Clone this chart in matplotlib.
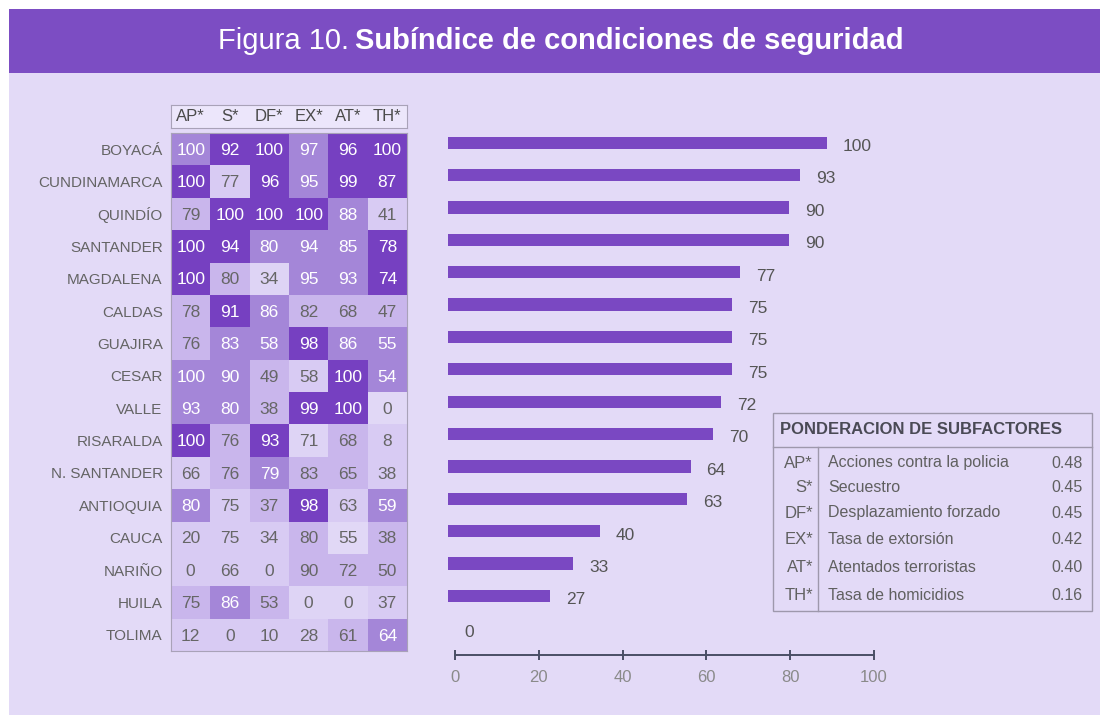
import matplotlib
matplotlib.use("Agg")
import matplotlib.pyplot as plt
from matplotlib.colors import LinearSegmentedColormap
from matplotlib.patches import Rectangle
from matplotlib.lines import Line2D
import numpy as np

plt.rcParams['font.family'] = ['Liberation Sans', 'DejaVu Sans']

# ---------------- data ----------------
departamentos = ["BOYACÁ", "CUNDINAMARCA", "QUINDÍO", "SANTANDER", "MAGDALENA",
                 "CALDAS", "GUAJIRA", "CESAR", "VALLE", "RISARALDA",
                 "N. SANTANDER", "ANTIOQUIA", "CAUCA", "NARIÑO", "HUILA", "TOLIMA"]
subfactores = ["AP*", "S*", "DF*", "EX*", "AT*", "TH*"]
valores = [
    [100, 92, 100, 97, 96, 100],
    [100, 77, 96, 95, 99, 87],
    [79, 100, 100, 100, 88, 41],
    [100, 94, 80, 94, 85, 78],
    [100, 80, 34, 95, 93, 74],
    [78, 91, 86, 82, 68, 47],
    [76, 83, 58, 98, 86, 55],
    [100, 90, 49, 58, 100, 54],
    [93, 80, 38, 99, 100, 0],
    [100, 76, 93, 71, 68, 8],
    [66, 76, 79, 83, 65, 38],
    [80, 75, 37, 98, 63, 59],
    [20, 75, 34, 80, 55, 38],
    [0, 66, 0, 90, 72, 50],
    [75, 86, 53, 0, 0, 37],
    [12, 0, 10, 28, 61, 64],
]
# shading level of each cell (0 = lightest, 3 = darkest)
intensidad = [
    [2, 3, 3, 2, 3, 3],
    [3, 0.5, 3, 2, 3, 3],
    [1, 3, 3, 3, 2, 0.5],
    [3, 3, 2, 2, 2, 3],
    [3, 1, 0.3, 2, 2, 3],
    [1, 3, 2, 1, 1, 1],
    [1, 2, 2, 3, 2, 2],
    [2, 2, 1, 0.5, 3, 2],
    [2, 2, 1, 3, 3, 0.2],
    [3, 1, 3, 0.3, 1, 0.5],
    [0.5, 1, 2, 1, 1, 0.5],
    [2, 0.5, 1, 3, 0.5, 2],
    [0.5, 0.5, 0.5, 1, 0.2, 1],
    [0.5, 0.5, 0.5, 1, 1, 1],
    [1, 2, 1, 0.3, 0.3, 0.5],
    [0.5, 0.5, 0.5, 0.5, 1, 2],
]
subindice = [100, 93, 90, 90, 77, 75, 75, 75, 72, 70, 64, 63, 40, 33, 27, 0]
escala_ticks = [0, 20, 40, 60, 80, 100]

leyenda_titulo = "PONDERACION DE SUBFACTORES"
leyenda_codigos = ["AP*", "S*", "DF*", "EX*", "AT*", "TH*"]
leyenda_nombres = ["Acciones contra la policia", "Secuestro", "Desplazamiento forzado",
                   "Tasa de extorsión", "Atentados terroristas", "Tasa de homicidios"]
leyenda_pesos = [0.48, 0.45, 0.45, 0.42, 0.40, 0.16]

# ---------------- style ----------------
W, H = 1100, 715
BG = "#e3daf7"
PURPLE = "#7a48c2"
GRAY = "#646464"

fig = plt.figure(figsize=(W / 100, H / 100), dpi=100)
fig.patch.set_facecolor("white")


def fx(x):
    return x / W


def fy(y):
    return 1 - y / H


def ax_px(l, t, r, b):
    return fig.add_axes([l / W, 1 - b / H, (r - l) / W, (b - t) / H])


# panel + banner
fig.add_artist(Rectangle((fx(9), 0), 1 - fx(9), fy(9), transform=fig.transFigure,
                         facecolor=BG, edgecolor="none", zorder=0))
fig.add_artist(Rectangle((fx(9), fy(73)), 1 - fx(9), fy(9) - fy(73), transform=fig.transFigure,
                         facecolor="#7c4dc3", edgecolor="none", zorder=0))
fig.text(fx(349), fy(41), "Figura 10.", color="white", fontsize=21, ha="right", va="center")
fig.text(fx(355), fy(41), "Subíndice de condiciones de seguridad", color="white", fontsize=21,
         fontweight="bold", ha="left", va="center")

# ---------------- heatmap ----------------
n = len(departamentos)
m = len(subfactores)
cmap = LinearSegmentedColormap.from_list(
    "lav", [(0, "#e7e0f9"), (1 / 3, "#c9b6ec"), (2 / 3, "#a486d8"), (1, "#7640c1")])

axh = ax_px(171, 133, 407, 651)
axh.pcolormesh(np.arange(m + 1) - 0.5, np.arange(n + 1) - 0.5, np.array(intensidad),
               cmap=cmap, vmin=0, vmax=3, shading="flat")
axh.set_xlim(-0.5, m - 0.5)
axh.set_ylim(n - 0.5, -0.5)
for i in range(n):
    for j in range(m):
        c = "white" if intensidad[i][j] >= 2 else "#666666"
        axh.text(j, i + 0.04, str(valores[i][j]), ha="center", va="center", fontsize=12.5, color=c)
axh.set_xticks([])
axh.set_yticks(range(n))
axh.set_yticklabels(departamentos, fontsize=11, color=GRAY)
axh.tick_params(axis="y", length=0, pad=6)
for s in axh.spines.values():
    s.set_color("#a9a2b8")
    s.set_linewidth(0.8)

# header
axhd = ax_px(171, 105, 407, 128)
axhd.set_facecolor("#ece6fb")
axhd.set_xlim(-0.5, m - 0.5)
axhd.set_ylim(0, 1)
for j, lab in enumerate(subfactores):
    axhd.text(j, 0.5, lab, ha="center", va="center", fontsize=12, color="#4a4a4a")
axhd.set_xticks([])
axhd.set_yticks([])
for s in axhd.spines.values():
    s.set_color("#a9a2b8")
    s.set_linewidth(0.8)

# ---------------- bars ----------------
axb = ax_px(448, 126.5, 827, 644.5)
axb.set_facecolor("none")
axb.barh(range(n), subindice, height=0.38, color=PURPLE, edgecolor="none")
for i, v in enumerate(subindice):
    axb.text(v + 4.2, i + 0.12, str(v), ha="left", va="center", fontsize=12.5, color="#555555",
             clip_on=False)
axb.set_xlim(0, 100)
axb.set_ylim(n - 0.5, -0.5)
axb.axis("off")

# scale axis
axs = ax_px(455, 640, 874, 655)
axs.set_facecolor("none")
axs.set_xlim(0, 100)
axs.set_ylim(0, 1)
for k in ["top", "left", "right"]:
    axs.spines[k].set_visible(False)
axs.spines["bottom"].set_color("#4a4f66")
axs.spines["bottom"].set_linewidth(1.4)
axs.set_yticks([])
axs.set_xticks(escala_ticks)
axs.set_xticklabels([str(t) for t in escala_ticks], fontsize=12, color="#8a8a8a")
axs.tick_params(axis="x", direction="inout", length=7, width=1.4, color="#4a4f66", pad=7)

# ---------------- legend table ----------------
lx0, ly0, lx1, ly1 = 773, 413, 1092, 611
fig.add_artist(Rectangle((fx(lx0), fy(ly1)), fx(lx1) - fx(lx0), fy(ly0) - fy(ly1),
                         transform=fig.transFigure, facecolor="none",
                         edgecolor="#9e98ac", linewidth=1.0))
fig.add_artist(Line2D([fx(lx0), fx(lx1)], [fy(447), fy(447)], transform=fig.transFigure,
                      color="#9e98ac", linewidth=1.0))
fig.add_artist(Line2D([fx(818), fx(818)], [fy(447), fy(ly1)], transform=fig.transFigure,
                      color="#9e98ac", linewidth=1.0))
fig.text(fx(780), fy(430), leyenda_titulo, fontsize=12, fontweight="bold", color="#4a4a55",
         ha="left", va="center")
row_y = [463, 488, 513, 540, 568, 595]
for k in range(len(leyenda_codigos)):
    fig.text(fx(813), fy(row_y[k]), leyenda_codigos[k], fontsize=12, color="#606060",
             ha="right", va="center")
    fig.text(fx(828), fy(row_y[k]), leyenda_nombres[k], fontsize=11.5, color="#606060",
             ha="left", va="center")
    fig.text(fx(1083), fy(row_y[k]), f"{leyenda_pesos[k]:.2f}", fontsize=11.5, color="#606060",
             ha="right", va="center")

fig.savefig("out.png", dpi=100, facecolor=fig.get_facecolor())
